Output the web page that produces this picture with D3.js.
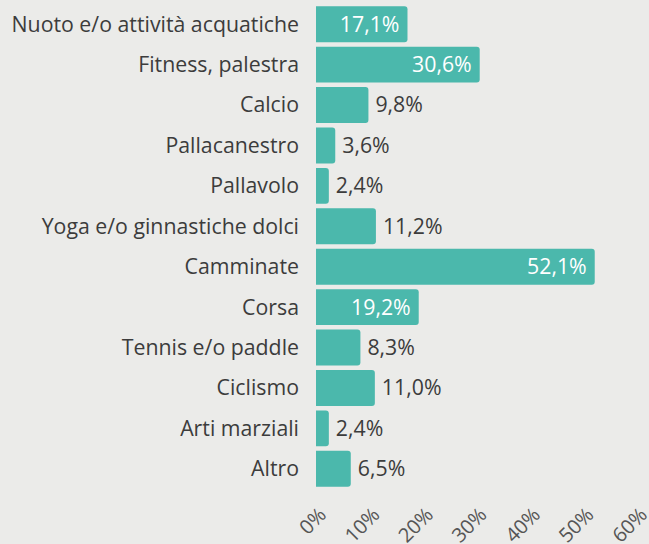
<!DOCTYPE html>
<html>
<head>
<meta charset="utf-8">
<script src="https://cdn.jsdelivr.net/npm/d3@7"></script>
<style>
  html, body { margin: 0; padding: 0; background: #ebebe9; }
  svg { display: block; font-family: "Open Sans", sans-serif; }
</style>
</head>
<body>
<svg id="chart" width="649" height="544"></svg>
<script>
// Sport praticati (% di rispondenti)
const categories = [
  "Nuoto e/o attività acquatiche",
  "Fitness, palestra",
  "Calcio",
  "Pallacanestro",
  "Pallavolo",
  "Yoga e/o ginnastiche dolci",
  "Camminate",
  "Corsa",
  "Tennis e/o paddle",
  "Ciclismo",
  "Arti marziali",
  "Altro"
];
const values = [17.1, 30.6, 9.8, 3.6, 2.4, 11.2, 52.1, 19.2, 8.3, 11.0, 2.4, 6.5];
const xTicks = [0, 10, 20, 30, 40, 50, 60];

const svg = d3.select("#chart");
const barColor = "#4bb8ac";
const fontSize = 21.3;

const x = d3.scaleLinear().domain([0, 60]).range([316, 637]);
const y = d3.scaleBand()
  .domain(categories)
  .range([4, 489])
  .paddingInner(0.11)
  .paddingOuter(0.055);

const fmt = v => d3.format(".1f")(v).replace(".", ",") + "%";
const data = categories.map((c, i) => ({ cat: c, val: values[i] }));

// bars with rounded right end
function barPath(d) {
  const x0 = x(0), x1 = x(d.val), y0 = y(d.cat), h = y.bandwidth();
  const r = Math.min(3, (x1 - x0) / 2);
  return `M${x0},${y0}H${x1 - r}Q${x1},${y0} ${x1},${y0 + r}V${y0 + h - r}Q${x1},${y0 + h} ${x1 - r},${y0 + h}H${x0}Z`;
}

svg.append("g").selectAll("path")
  .data(data)
  .join("path")
  .attr("d", barPath)
  .attr("fill", barColor);

// category labels
svg.append("g").selectAll("text")
  .data(data)
  .join("text")
  .attr("x", 299)
  .attr("y", d => y(d.cat) + y.bandwidth() / 2)
  .attr("dy", "0.35em")
  .attr("text-anchor", "end")
  .attr("font-size", fontSize)
  .attr("fill", "#3c3c3c")
  .text(d => d.cat);

// value labels: inside the long bars, outside the short ones
const inside = d => d.val >= 15;
svg.append("g").selectAll("text")
  .data(data)
  .join("text")
  .attr("x", d => inside(d) ? x(d.val) - 8 : x(d.val) + 7)
  .attr("y", d => y(d.cat) + y.bandwidth() / 2)
  .attr("dy", "0.35em")
  .attr("text-anchor", d => inside(d) ? "end" : "start")
  .attr("font-size", fontSize)
  .attr("fill", d => inside(d) ? "#ffffff" : "#3c3c3c")
  .text(d => fmt(d.val));

// x axis tick labels, rotated
const axis = svg.append("g")
  .call(d3.axisBottom(x).tickValues(xTicks).tickSize(0).tickFormat(d => d + "%"));
axis.select(".domain").remove();
axis.selectAll(".tick text")
  .attr("font-family", "Open Sans, sans-serif")
  .attr("font-size", 20)
  .attr("fill", "#555555")
  .attr("text-anchor", "end")
  .attr("y", 0)
  .attr("dy", 0)
  .attr("transform", "translate(11,516) rotate(-45)");
</script>
</body>
</html>
